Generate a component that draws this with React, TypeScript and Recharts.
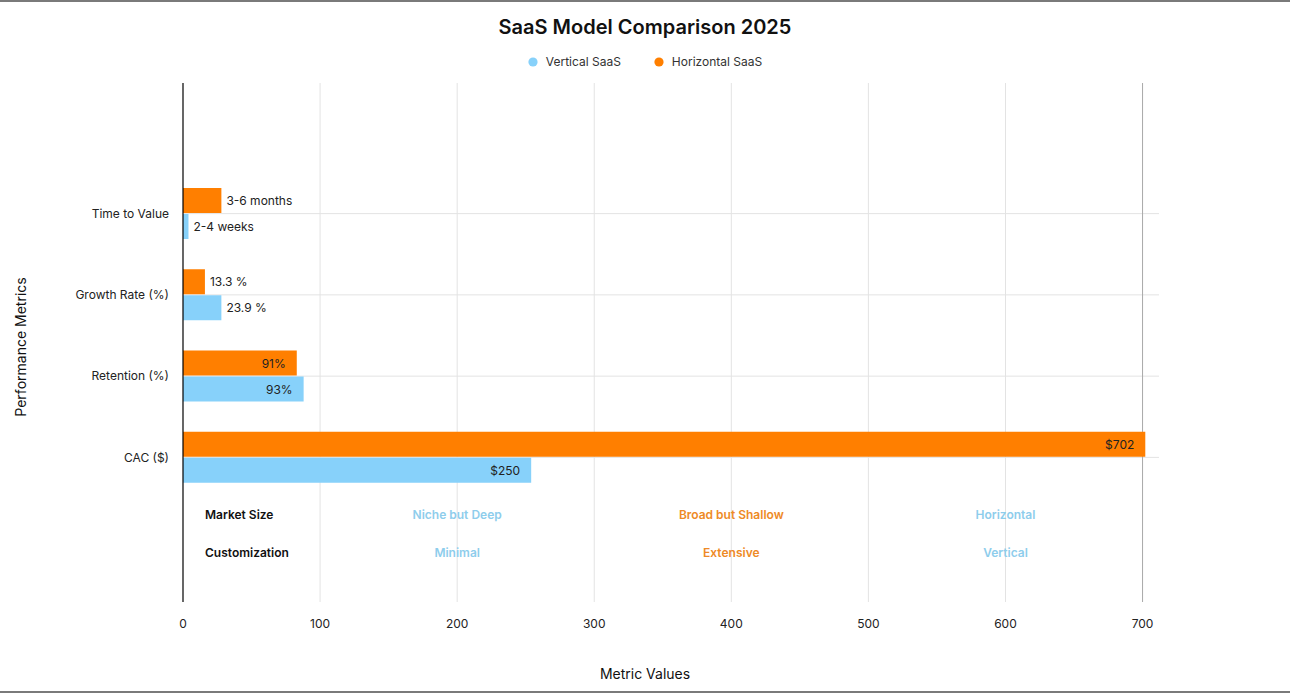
import React from 'react';
import {
  BarChart,
  Bar,
  XAxis,
  YAxis,
  Legend,
  LabelList,
  ReferenceLine,
  CartesianGrid,
} from 'recharts';

// ---- data ----
const categories = ['Time to Value', 'Growth Rate (%)', 'Retention (%)', 'CAC ($)'];
const verticalValues = [4, 28, 88, 254];
const horizontalValues = [28, 16, 83, 702];
const verticalLabels = ['2-4 weeks', '23.9 %', '93%', '$250'];
const horizontalLabels = ['3-6 months', '13.3 %', '91%', '$702'];
const xTicks = [0, 100, 200, 300, 400, 500, 600, 700];

const tableRowLabels = ['Market Size', 'Customization'];
const tableVertical = ['Niche but Deep', 'Minimal'];
const tableHorizontal = ['Broad but Shallow', 'Extensive'];
const tableLeader = ['Horizontal', 'Vertical'];

// ---- styles ----
const FONT = 'Inter, "Noto Sans", sans-serif';
const BLUE = '#87d1fa';
const ORANGE = '#ff7f00';
const BLUE_TEXT = '#8ecdec';
const ORANGE_TEXT = '#ee8a26';
const GRID = '#e3e3e3';
const ROW_OFFSETS = [88, 50]; // distance above plot bottom for table rows

const data = categories.map((c, i) => ({
  name: c,
  vertical: verticalValues[i],
  horizontal: horizontalValues[i],
  vLabel: verticalLabels[i],
  hLabel: horizontalLabels[i],
}));

const callScale = (s: any, v: any) => {
  if (!s) return NaN;
  if (typeof s === 'function') return s(v);
  if (typeof s.map === 'function') return s.map(v);
  return NaN;
};

const verticalGen = (args: any) => {
  const s = args?.xAxis?.scale;
  return xTicks
    .slice(1, -1)
    .map((t) => callScale(s, t))
    .filter((v) => Number.isFinite(v));
};

const lastTickGen = (args: any) => {
  const s = args?.xAxis?.scale;
  return [xTicks[xTicks.length - 1]]
    .map((t) => callScale(s, t))
    .filter((v) => Number.isFinite(v));
};

const horizontalGen = (args: any) => {
  const s = args?.yAxis?.scale;
  const bw = s && typeof s.bandwidth === 'function' ? s.bandwidth() : 0;
  return categories
    .map((c) => callScale(s, c) + bw / 2)
    .filter((v) => Number.isFinite(v));
};

const makeBarLabel = (labels: string[]) => (props: any) => {
  const { x, y, width, height, index } = props;
  const text = labels[index];
  const cy = y + height / 2;
  const inside = width > 60;
  return (
    <text
      x={inside ? x + width - 11 : x + width + 5}
      y={cy}
      textAnchor={inside ? 'end' : 'start'}
      dominantBaseline="central"
      fontSize={12}
      fontFamily={FONT}
      fill="#222"
    >
      {text}
    </text>
  );
};

const makeColumn = (texts: string[], color: string) => (props: any) => {
  const vb = props.viewBox || {};
  const bottom = vb.y + vb.height;
  return (
    <g>
      {texts.map((t, i) => (
        <text
          key={i}
          x={vb.x}
          y={bottom - ROW_OFFSETS[i]}
          textAnchor="middle"
          dominantBaseline="central"
          fontSize={12}
          fontWeight={600}
          fontFamily={FONT}
          fill={color}
        >
          {t}
        </text>
      ))}
    </g>
  );
};

const rowHeads = (props: any) => {
  const vb = props.viewBox || {};
  const bottom = vb.y + vb.height;
  return (
    <g>
      {tableRowLabels.map((t, i) => (
        <text
          key={i}
          x={vb.x + 22}
          y={bottom - ROW_OFFSETS[i]}
          textAnchor="start"
          dominantBaseline="central"
          fontSize={12}
          fontWeight={600}
          fontFamily={FONT}
          fill="#111"
        >
          {t}
        </text>
      ))}
    </g>
  );
};

const legendContent = () => {
  const items = [
    { label: 'Vertical SaaS', color: BLUE },
    { label: 'Horizontal SaaS', color: ORANGE },
  ];
  return (
    <div
      style={{
        display: 'flex',
        justifyContent: 'center',
        alignItems: 'center',
        fontFamily: FONT,
        fontSize: 12,
        color: '#333',
        gap: 33,
      }}
    >
      {items.map((it) => (
        <div key={it.label} style={{ display: 'flex', alignItems: 'center' }}>
          <svg width={10} height={10} style={{ marginRight: 8 }}>
            <circle cx={5} cy={5} r={4.6} fill={it.color} />
          </svg>
          <span>{it.label}</span>
        </div>
      ))}
    </div>
  );
};

export default function App() {
  return (
    <div
      style={{
        position: 'relative',
        width: 1290,
        height: 693,
        background: '#fff',
        boxSizing: 'border-box',
        fontFamily: FONT,
      }}
    >
      <style>{'body{margin:0;}'}</style>
      <div
        style={{
          position: 'absolute',
          left: 0,
          top: 0,
          width: 1290,
          height: 2,
          background: '#7a7a7a',
        }}
      />
      <div
        style={{
          position: 'absolute',
          left: 0,
          top: 691,
          width: 1290,
          height: 2,
          background: '#7a7a7a',
        }}
      />
      <div
        style={{
          position: 'absolute',
          left: 0,
          top: 13,
          width: 1290,
          textAlign: 'center',
          fontSize: 20,
          fontWeight: 600,
          color: '#111',
          lineHeight: '28px',
        }}
      >
        SaaS Model Comparison 2025
      </div>
      <BarChart
        width={1290}
        height={693}
        data={data}
        layout="vertical"
        margin={{ top: 83, right: 131, bottom: 61, left: 0 }}
        barSize={25}
        barGap={1}
      >
        <CartesianGrid
          stroke={GRID}
          strokeWidth={1}
          verticalCoordinatesGenerator={verticalGen}
          horizontalCoordinatesGenerator={horizontalGen}
        />
        <CartesianGrid
          stroke="#a8a8a8"
          strokeWidth={1}
          horizontal={false}
          verticalCoordinatesGenerator={lastTickGen}
        />
        <XAxis
          type="number"
          domain={[0, 712]}
          ticks={xTicks}
          height={30}
          axisLine={false}
          tickLine={false}
          tickMargin={11}
          tick={{ fontSize: 12, fill: '#222', fontFamily: FONT }}
          label={{
            content: () => (
              <text
                x={645}
                y={673}
                textAnchor="middle"
                dominantBaseline="central"
                fontSize={14}
                fontFamily={FONT}
                fill="#111"
              >
                Metric Values
              </text>
            ),
          }}
        />
        <YAxis
          type="category"
          dataKey="name"
          width={183}
          axisLine={{ stroke: '#000', strokeWidth: 1.2 }}
          tickLine={false}
          tickMargin={8}
          padding={{ top: 90, bottom: 104 }}
          tick={{ fontSize: 12, fill: '#222', fontFamily: FONT }}
          label={{
            content: () => (
              <text
                x={20}
                y={347}
                transform="rotate(-90 20 347)"
                textAnchor="middle"
                dominantBaseline="central"
                fontSize={14}
                fontFamily={FONT}
                fill="#111"
              >
                Performance Metrics
              </text>
            ),
          }}
        />
        <Legend
          content={legendContent}
          verticalAlign="middle"
          align="center"
          layout="horizontal"
          wrapperStyle={{ top: 54, left: 0, width: 1290 }}
        />
        <Bar dataKey="horizontal" name="Horizontal SaaS" fill={ORANGE} isAnimationActive={false}>
          <LabelList dataKey="hLabel" content={makeBarLabel(horizontalLabels)} />
        </Bar>
        <Bar dataKey="vertical" name="Vertical SaaS" fill={BLUE} isAnimationActive={false}>
          <LabelList dataKey="vLabel" content={makeBarLabel(verticalLabels)} />
        </Bar>
        <ReferenceLine x={0} stroke="none" label={{ content: rowHeads }} />
        <ReferenceLine x={200} stroke="none" label={{ content: makeColumn(tableVertical, BLUE_TEXT) }} />
        <ReferenceLine x={400} stroke="none" label={{ content: makeColumn(tableHorizontal, ORANGE_TEXT) }} />
        <ReferenceLine x={600} stroke="none" label={{ content: makeColumn(tableLeader, BLUE_TEXT) }} />
      </BarChart>
    </div>
  );
}
